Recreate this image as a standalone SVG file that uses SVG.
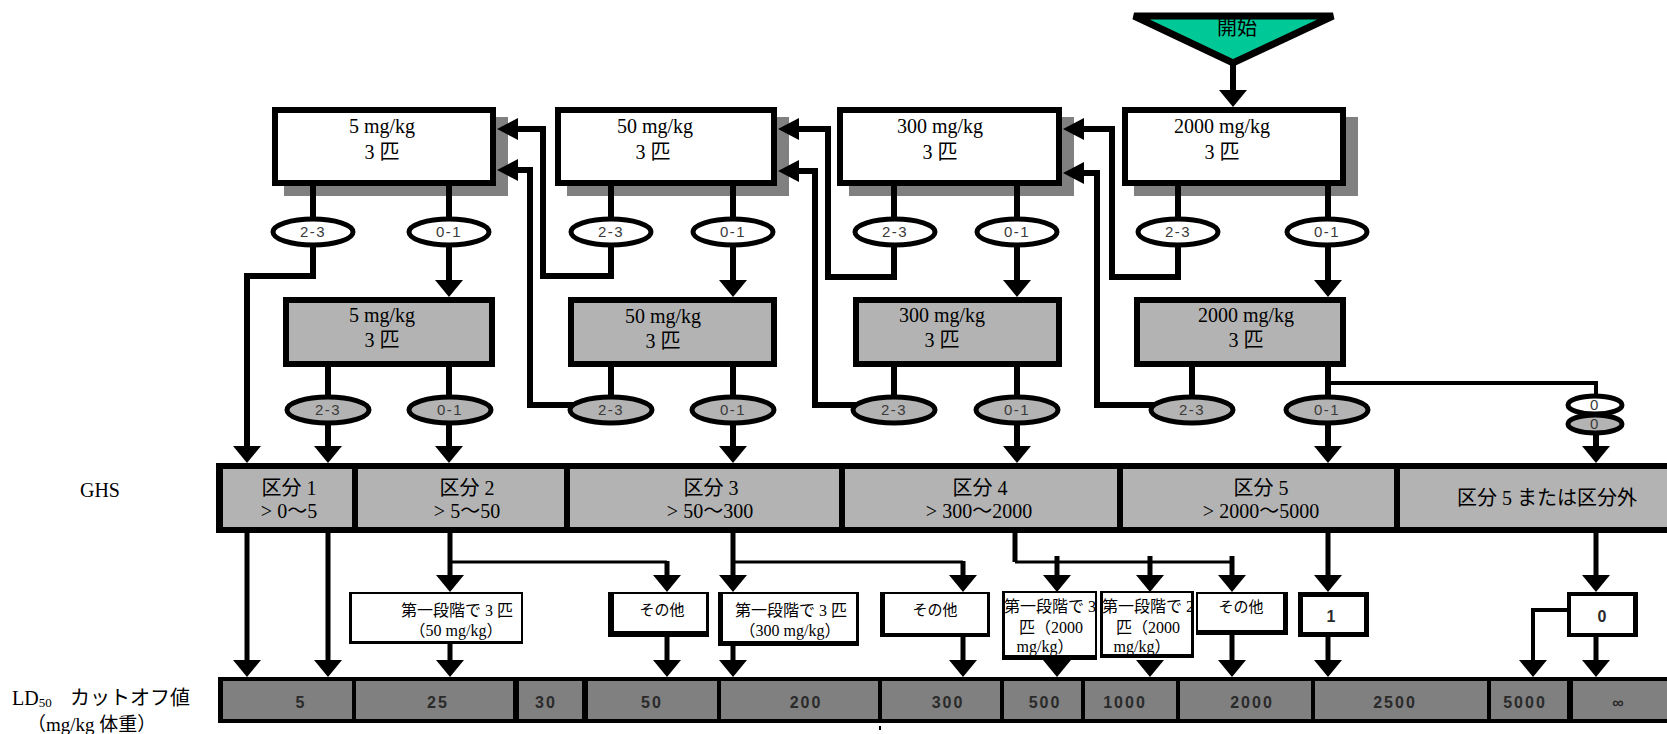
<svg xmlns="http://www.w3.org/2000/svg" width="1667" height="734" viewBox="0 0 1667 734">
<style>
.t{font-family:"Liberation Serif","Noto Sans CJK JP",serif;fill:#000}
.t20{font-size:20px}
.t16{font-size:16px}
.t15{font-size:15px}
.m{text-anchor:middle}
.num{font-family:"Liberation Sans",Arial,sans-serif;font-weight:bold;font-size:16px;fill:#2a2a2a;text-anchor:middle;letter-spacing:2px}
.el{font-family:"Liberation Sans",Arial,sans-serif;font-size:15px;fill:#3a3a3a;text-anchor:middle;letter-spacing:1.5px}
.wbox{fill:#fff;stroke:#000;stroke-width:6}
.gbox{fill:#b3b3b3;stroke:#000;stroke-width:6}
.shd{fill:#808080}
.we{fill:#fff;stroke:#000;stroke-width:5}
.ge{fill:#b3b3b3;stroke:#000;stroke-width:5}
.c{fill:none;stroke:#000;stroke-width:6}
.c5{fill:none;stroke:#000;stroke-width:5}
.c4{fill:none;stroke:#000;stroke-width:4}
.c3{fill:none;stroke:#000;stroke-width:3}
.gc{fill:#b3b3b3}
.lc{fill:#808080}
</style>
<defs>
<path id="ad" d="M-14,-17H14L0,0Z"/>
<path id="al" d="M0,0L21,-11V11Z"/>
</defs>
<rect width="1667" height="734" fill="#fff"/>

<g id="shadows">
<rect class="shd" x="284" y="117" width="224" height="79"/>
<rect class="shd" x="567" y="117" width="222" height="79"/>
<rect class="shd" x="849" y="117" width="225" height="79"/>
<rect class="shd" x="1134" y="117" width="224" height="79"/>
</g>

<g id="connectors">
<path class="c" d="M1233,60V91"/><use href="#ad" x="1233" y="107"/>
<path class="c" d="M313,186V232M313,232V276H247V447"/><use href="#ad" x="247" y="463"/>
<path class="c" d="M449,186V281"/><use href="#ad" x="449" y="297"/>
<path class="c" d="M328,367V447"/><use href="#ad" x="328" y="463"/>
<path class="c" d="M449,367V447"/><use href="#ad" x="449" y="463"/>
<path class="c" d="M611,186V276H543V129H517"/><use href="#al" x="497" y="129"/>
<path class="c" d="M733,186V281"/><use href="#ad" x="733" y="297"/>
<path class="c" d="M611,367V405M611,405H530V170H517"/><use href="#al" x="497" y="170"/>
<path class="c" d="M733,367V447"/><use href="#ad" x="733" y="463"/>
<path class="c" d="M894,186V277H828V129H798"/><use href="#al" x="778" y="129"/>
<path class="c" d="M1017,186V281"/><use href="#ad" x="1017" y="297"/>
<path class="c" d="M894,367V405M894,405H815V171H798"/><use href="#al" x="778" y="171"/>
<path class="c" d="M1017,367V447"/><use href="#ad" x="1017" y="463"/>
<path class="c" d="M1178,186V277H1112V129H1083"/><use href="#al" x="1063" y="129"/>
<path class="c" d="M1328,186V281"/><use href="#ad" x="1328" y="297"/>
<path class="c" d="M1192,367V405M1192,405H1097V173H1083"/><use href="#al" x="1063" y="173"/>
<path class="c" d="M1328,367V447"/><use href="#ad" x="1328" y="463"/>
<path class="c4" d="M1328,383H1596V410"/>
<path class="c" d="M1596,424V447"/><use href="#ad" x="1596" y="463"/>
<path class="c5" d="M247,533V661M328,533V661"/><use href="#ad" x="247" y="677"/><use href="#ad" x="328" y="677"/>
<path class="c5" d="M450,533V576M450,644V661"/><use href="#ad" x="450" y="592"/><use href="#ad" x="450" y="677"/>
<path class="c3" d="M450,562H667"/>
<path class="c5" d="M667,561V576M667,637V661"/><use href="#ad" x="667" y="592"/><use href="#ad" x="667" y="677"/>
<path class="c5" d="M733,533V576M733,646V661"/><use href="#ad" x="733" y="592"/><use href="#ad" x="733" y="677"/>
<path class="c3" d="M733,562H963"/>
<path class="c5" d="M963,561V576M963,637V661"/><use href="#ad" x="963" y="592"/><use href="#ad" x="963" y="677"/>
<path class="c5" d="M1015,533V562"/>
<path class="c3" d="M1015,562H1232"/>
<path class="c5" d="M1057,556V576"/><use href="#ad" x="1057" y="592"/><use href="#ad" x="1057" y="677"/>
<path class="c5" d="M1150,556V576"/><use href="#ad" x="1150" y="592"/><use href="#ad" x="1150" y="677"/>
<path class="c5" d="M1232,556V576M1232,635V661"/><use href="#ad" x="1232" y="592"/><use href="#ad" x="1232" y="677"/>
<path class="c5" d="M1328,533V576M1328,637V661"/><use href="#ad" x="1328" y="592"/><use href="#ad" x="1328" y="677"/>
<path class="c5" d="M1596,533V576M1596,637V661"/><use href="#ad" x="1596" y="592"/><use href="#ad" x="1596" y="677"/>
<path class="c4" d="M1570,610H1533V661"/><use href="#ad" x="1533" y="677"/>
</g>

<g id="start">
<polygon points="1134,16 1333,16 1233,63" fill="#00c896" stroke="#000" stroke-width="7"/>
<text class="t t20 m" x="1237" y="35" fill="#222">開始</text>
</g>

<g id="top-5">
<rect class="wbox" x="275" y="110" width="218" height="73"/>
<text class="t t20 m" x="382" y="133">5 mg/kg</text>
<text class="t t20 m" x="382" y="159">3 匹</text>
</g>
<g id="top-50">
<rect class="wbox" x="558" y="110" width="216" height="73"/>
<text class="t t20 m" x="655" y="133">50 mg/kg</text>
<text class="t t20 m" x="653" y="159">3 匹</text>
</g>
<g id="top-300">
<rect class="wbox" x="840" y="110" width="219" height="73"/>
<text class="t t20 m" x="940" y="133">300 mg/kg</text>
<text class="t t20 m" x="940" y="159">3 匹</text>
</g>
<g id="top-2000">
<rect class="wbox" x="1125" y="110" width="218" height="73"/>
<text class="t t20 m" x="1222" y="133">2000 mg/kg</text>
<text class="t t20 m" x="1222" y="159">3 匹</text>
</g>

<g id="e-top-5-23"><ellipse class="we" cx="313" cy="232" rx="40" ry="13"/><text class="el" x="313" y="237">2-3</text></g>
<g id="e-top-5-01"><ellipse class="we" cx="449" cy="232" rx="40" ry="13"/><text class="el" x="449" y="237">0-1</text></g>
<g id="e-top-50-23"><ellipse class="we" cx="611" cy="232" rx="40" ry="13"/><text class="el" x="611" y="237">2-3</text></g>
<g id="e-top-50-01"><ellipse class="we" cx="733" cy="232" rx="40" ry="13"/><text class="el" x="733" y="237">0-1</text></g>
<g id="e-top-300-23"><ellipse class="we" cx="895" cy="232" rx="40" ry="13"/><text class="el" x="895" y="237">2-3</text></g>
<g id="e-top-300-01"><ellipse class="we" cx="1017" cy="232" rx="40" ry="13"/><text class="el" x="1017" y="237">0-1</text></g>
<g id="e-top-2000-23"><ellipse class="we" cx="1178" cy="232" rx="40" ry="13"/><text class="el" x="1178" y="237">2-3</text></g>
<g id="e-top-2000-01"><ellipse class="we" cx="1327" cy="232" rx="40" ry="13"/><text class="el" x="1327" y="237">0-1</text></g>

<g id="g-5">
<rect class="gbox" x="286" y="300" width="206" height="64"/>
<text class="t t20 m" x="382" y="322">5 mg/kg</text>
<text class="t t20 m" x="382" y="347">3 匹</text>
</g>
<g id="g-50">
<rect class="gbox" x="571" y="300" width="203" height="64"/>
<text class="t t20 m" x="663" y="323">50 mg/kg</text>
<text class="t t20 m" x="663" y="348">3 匹</text>
</g>
<g id="g-300">
<rect class="gbox" x="856" y="300" width="203" height="64"/>
<text class="t t20 m" x="942" y="322">300 mg/kg</text>
<text class="t t20 m" x="942" y="347">3 匹</text>
</g>
<g id="g-2000">
<rect class="gbox" x="1137" y="300" width="206" height="64"/>
<text class="t t20 m" x="1246" y="322">2000 mg/kg</text>
<text class="t t20 m" x="1246" y="347">3 匹</text>
</g>

<g id="e-g-5-23"><ellipse class="ge" cx="328" cy="410" rx="41" ry="13"/><text class="el" x="328" y="415">2-3</text></g>
<g id="e-g-5-01"><ellipse class="ge" cx="450" cy="410" rx="41" ry="13"/><text class="el" x="450" y="415">0-1</text></g>
<g id="e-g-50-23"><ellipse class="ge" cx="611" cy="410" rx="41" ry="13"/><text class="el" x="611" y="415">2-3</text></g>
<g id="e-g-50-01"><ellipse class="ge" cx="733" cy="410" rx="41" ry="13"/><text class="el" x="733" y="415">0-1</text></g>
<g id="e-g-300-23"><ellipse class="ge" cx="894" cy="410" rx="41" ry="13"/><text class="el" x="894" y="415">2-3</text></g>
<g id="e-g-300-01"><ellipse class="ge" cx="1017" cy="410" rx="41" ry="13"/><text class="el" x="1017" y="415">0-1</text></g>
<g id="e-g-2000-23"><ellipse class="ge" cx="1192" cy="410" rx="41" ry="13"/><text class="el" x="1192" y="415">2-3</text></g>
<g id="e-g-2000-01"><ellipse class="ge" cx="1327" cy="410" rx="41" ry="13"/><text class="el" x="1327" y="415">0-1</text></g>
<g id="e-0-white"><ellipse class="we" cx="1595" cy="405" rx="27" ry="9" stroke-width="4"/><text class="el" x="1595" y="410" font-size="13">0</text></g>
<g id="e-0-gray"><ellipse class="ge" cx="1595" cy="424" rx="27" ry="9" stroke-width="4"/><text class="el" x="1595" y="429" font-size="13">0</text></g>

<g id="ghs-bar">
<rect x="216" y="463" width="1470" height="70" fill="#000"/>
<rect class="gc" x="223" y="469" width="129" height="58"/>
<rect class="gc" x="358" y="469" width="206" height="58"/>
<rect class="gc" x="570" y="469" width="269" height="58"/>
<rect class="gc" x="845" y="469" width="272" height="58"/>
<rect class="gc" x="1123" y="469" width="271" height="58"/>
<rect class="gc" x="1400" y="469" width="280" height="58"/>
<text class="t t20 m" x="289" y="495">区分 1</text>
<text class="t t20 m" x="289" y="518">&gt; 0〜5</text>
<text class="t t20 m" x="467" y="495">区分 2</text>
<text class="t t20 m" x="467" y="518">&gt; 5〜50</text>
<text class="t t20 m" x="711" y="495">区分 3</text>
<text class="t t20 m" x="710" y="518">&gt; 50〜300</text>
<text class="t t20 m" x="980" y="495">区分 4</text>
<text class="t t20 m" x="979" y="518">&gt; 300〜2000</text>
<text class="t t20 m" x="1261" y="495">区分 5</text>
<text class="t t20 m" x="1261" y="518">&gt; 2000〜5000</text>
<text class="t t20 m" x="1547" y="505">区分 5 または区分外</text>
</g>

<g id="label-ghs"><text class="t t20 m" x="100" y="497">GHS</text></g>
<g id="label-ld50">
<text class="t t20" x="12" y="705">LD<tspan font-size="13" dy="2">50</tspan><tspan dy="-2" x="70">カットオフ値</tspan></text>
<text class="t" font-size="19" x="27" y="731">（mg/kg 体重）</text>
</g>

<g id="box-50">
<rect x="349" y="592" width="174" height="52" fill="#000"/>
<rect x="352" y="594" width="169" height="47" fill="#fff"/>
<text class="t t16 m" x="457" y="616">第一段階で 3 匹</text>
<text class="t t16 m" x="456" y="636">（50 mg/kg）</text>
</g>
<g id="box-other-50">
<rect x="608" y="592" width="101" height="45" fill="#000"/>
<rect x="614" y="594" width="92" height="37" fill="#fff"/>
<text class="t t15 m" x="662" y="615">その他</text>
</g>
<g id="box-300">
<rect x="718" y="592" width="141" height="54" fill="#000"/>
<rect x="723" y="594" width="133" height="47" fill="#fff"/>
<text class="t t16 m" x="791" y="616">第一段階で 3 匹</text>
<text class="t t16 m" x="790" y="636">（300 mg/kg）</text>
</g>
<g id="box-other-300">
<rect x="880" y="592" width="110" height="45" fill="#000"/>
<rect x="885" y="594" width="102" height="39" fill="#fff"/>
<text class="t t15 m" x="935" y="615">その他</text>
</g>
<g id="box-2000-3">
<rect x="1002" y="591" width="95" height="69" fill="#000"/>
<rect x="1005" y="593" width="90" height="62" fill="#fff"/>
<text class="t t16 m" x="1050" y="612">第一段階で 3</text>
<text class="t t16 m" x="1051" y="633">匹（2000</text>
<text class="t t16 m" x="1045" y="652">mg/kg）</text>
</g>
<g id="box-2000-2">
<rect x="1100" y="591" width="94" height="67" fill="#000"/>
<rect x="1103" y="593" width="88" height="61" fill="#fff"/>
<text class="t t16 m" x="1148" y="612">第一段階で 2</text>
<text class="t t16 m" x="1148" y="633">匹（2000</text>
<text class="t t16 m" x="1142" y="652">mg/kg）</text>
</g>
<g id="box-other-2000">
<rect x="1196" y="592" width="92" height="43" fill="#000"/>
<rect x="1198" y="594" width="85" height="36" fill="#fff"/>
<text class="t t15 m" x="1241" y="612">その他</text>
</g>
<g id="box-1">
<rect x="1298" y="592" width="71" height="45" fill="#000"/>
<rect x="1303" y="597" width="61" height="35" fill="#fff"/>
<text class="num" x="1332" y="622">1</text>
</g>
<g id="box-0">
<rect x="1567" y="592" width="71" height="45" fill="#000"/>
<rect x="1571" y="596" width="62" height="37" fill="#fff"/>
<text class="num" x="1603" y="622">0</text>
</g>

<g id="ld50-bar">
<rect x="218" y="677" width="1470" height="46" fill="#000"/>
<rect class="lc" x="223" y="681" width="129" height="38"/>
<rect class="lc" x="356" y="681" width="157" height="38"/>
<rect class="lc" x="519" y="681" width="63" height="38"/>
<rect class="lc" x="588" y="681" width="129" height="38"/>
<rect class="lc" x="721" y="681" width="157" height="38"/>
<rect class="lc" x="882" y="681" width="118" height="38"/>
<rect class="lc" x="1004" y="681" width="77" height="38"/>
<rect class="lc" x="1085" y="681" width="91" height="38"/>
<rect class="lc" x="1180" y="681" width="131" height="38"/>
<rect class="lc" x="1315" y="681" width="172" height="38"/>
<rect class="lc" x="1491" y="681" width="76" height="38"/>
<rect class="lc" x="1573" y="681" width="110" height="38"/>
<text class="num" x="301" y="708">5</text>
<text class="num" x="438" y="708">25</text>
<text class="num" x="546" y="708">30</text>
<text class="num" x="652" y="708">50</text>
<text class="num" x="806" y="708">200</text>
<text class="num" x="948" y="708">300</text>
<text class="num" x="1045" y="708">500</text>
<text class="num" x="1125" y="708">1000</text>
<text class="num" x="1252" y="708">2000</text>
<text class="num" x="1395" y="708">2500</text>
<text class="num" x="1525" y="708">5000</text>
<text class="num" x="1619" y="708" font-weight="normal">∞</text>
</g>
<rect x="879" y="726" width="2" height="4" fill="#000"/>
</svg>
